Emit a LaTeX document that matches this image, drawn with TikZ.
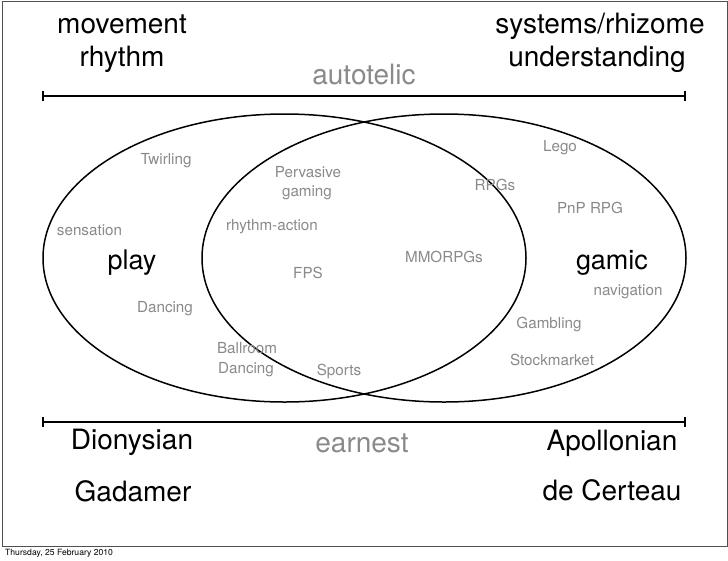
\documentclass[tikz,border=0pt]{standalone}
\usepackage{fontspec}
\setmainfont{TeX Gyre Heros}
\usetikzlibrary{arrows.meta}
\definecolor{lblgray}{RGB}{138,138,138}
\definecolor{framegray}{RGB}{80,80,80}
\tikzset{
  big/.style={anchor=base, inner sep=0pt, font=\fontsize{28}{32}\selectfont, text=black},
  bigg/.style={anchor=base, inner sep=0pt, font=\fontsize{28}{32}\selectfont, text=lblgray},
  small/.style={anchor=base, inner sep=0pt, font=\fontsize{15.2}{18}\selectfont, text=lblgray},
  axis/.style={line width=2.4pt, {Bar[width=10pt,line width=1.8pt]}-{Bar[width=10pt,line width=1.8pt]}},
  venn/.style={line width=1.5pt},
}
\begin{document}
\begin{tikzpicture}[x=1pt,y=-1pt]
\useasboundingbox (0,0) rectangle (728,560);
\fill[white] (0,0) rectangle (728,560);
\draw[framegray, line width=1pt] (2,1) rectangle (727,546);
% axes
\coordinate (tl) at (42,96);
\coordinate (tr) at (686,96);
\coordinate (bl) at (42,422);
\coordinate (br) at (686,422);
\draw[axis] (tl) -- (tr);
\draw[axis] (bl) -- (br);
% ellipses
\draw[venn] (284.5,258) ellipse [x radius=241.5, y radius=144];
\draw[venn] (444,258) ellipse [x radius=242, y radius=144];
% top labels
\node[big] (mov) at (122,33) {movement};
\node[big] (rhy) at (122,66) {rhythm};
\node[big] (sys) at (600,33) {systems/rhizome};
\node[big] (und) at (597,66) {understanding};
\node[bigg] (aut) at (364,84) {autotelic};
% bottom labels
\node[big] (dio) at (132,449) {Dionysian};
\node[big] (gad) at (133,501) {Gadamer};
\node[bigg] (ear) at (362,452) {earnest};
\node[big] (apo) at (612,450) {Apollonian};
\node[big] (cer) at (612,500) {de Certeau};
% main words
\node[big, font=\fontsize{27}{30}\selectfont] (play) at (132,269) {play};
\node[big, font=\fontsize{27}{30}\selectfont] (gamic) at (612,269) {gamic};
% small labels
\node[small] (twi) at (166,164) {Twirling};
\node[small] (per) at (308,177) {Pervasive};
\node[small] (gam) at (307,196) {gaming};
\node[small] (sen) at (89.5,235) {sensation};
\node[small] (rac) at (272,230) {rhythm-action};
\node[small] (fps) at (308,278) {FPS};
\node[small] (dan) at (165,312) {Dancing};
\node[small] (bal) at (247,353) {Ballroom};
\node[small] (bdan) at (246,373) {Dancing};
\node[small] (spo) at (339,375) {Sports};
\node[small] (leg) at (560,151) {Lego};
\node[small] (rpg) at (495,190) {RPGs};
\node[small] (pnp) at (590,213) {PnP RPG};
\node[small] (mmo) at (444,262) {MMORPGs};
\node[small] (nav) at (628,295) {navigation};
\node[small] (gbl) at (549,328) {Gambling};
\node[small] (stk) at (552,365) {Stockmarket};
% date
\node[anchor=base west, inner sep=0pt, font=\fontsize{8.6}{10}\selectfont] (date) at (5,555) {Thursday, 25 February 2010};
\end{tikzpicture}
\end{document}
